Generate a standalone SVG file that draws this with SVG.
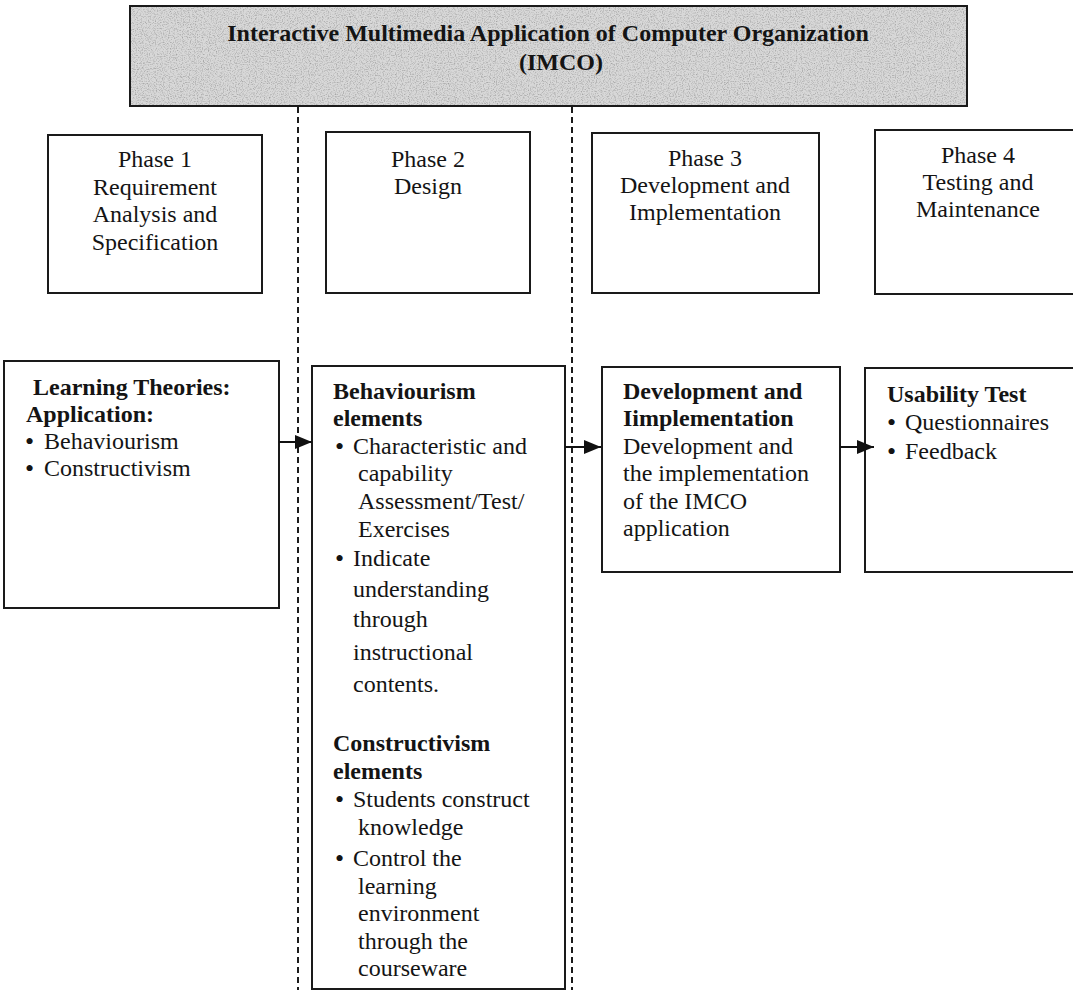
<svg xmlns="http://www.w3.org/2000/svg" width="1073" height="1003" viewBox="0 0 1073 1003">
<style>
  text { font-family: "Liberation Serif", "Times New Roman", serif; font-size: 24px; fill: #141414; }
  .b { font-weight: bold; }
  .c { text-anchor: middle; }
  .bul { font-size: 26px; }
  .box { fill: #ffffff; stroke: #1a1a1a; stroke-width: 2; }
  .dash { stroke: #1a1a1a; stroke-width: 2; stroke-dasharray: 6 4; fill: none; }
  .conn { stroke: #111; stroke-width: 2; fill: none; marker-end: url(#arrow); }
</style>
<defs>
  <marker id="arrow" markerUnits="userSpaceOnUse" markerWidth="18" markerHeight="14" refX="17" refY="7" orient="auto">
    <path d="M0,0 L17,7 L0,14 Z" fill="#111"/>
  </marker>
  <filter id="noise" x="0" y="0" width="100%" height="100%">
    <feTurbulence type="fractalNoise" baseFrequency="0.85" numOctaves="2" seed="7" result="t"/>
    <feColorMatrix in="t" type="matrix" values="0 0 0 0 0.35  0 0 0 0 0.35  0 0 0 0 0.35  0 0 0 2.2 -1.0" result="n"/>
    <feComposite in="n" in2="SourceGraphic" operator="in"/>
  </filter>
</defs>
<rect width="1073" height="1003" fill="#ffffff"/>

<g id="title">
  <rect x="130" y="6" width="837" height="100" fill="#d8d8d8"/>
  <rect x="130" y="6" width="837" height="100" fill="#000" filter="url(#noise)"/>
  <rect x="130" y="6" width="837" height="100" fill="none" stroke="#1a1a1a" stroke-width="2"/>
  <text class="b c" x="548" y="41">Interactive Multimedia Application of Computer Organization</text>
  <text class="b c" x="561" y="70">(IMCO)</text>
</g>

<g id="dividers">
  <line class="dash" x1="298" y1="107" x2="298" y2="990"/>
  <line class="dash" x1="572" y1="107" x2="572" y2="990"/>
</g>

<g id="phase1">
  <rect class="box" x="48" y="135" width="214" height="158"/>
  <text class="c" x="155" y="167">Phase 1</text>
  <text class="c" x="155" y="195">Requirement</text>
  <text class="c" x="155" y="222">Analysis and</text>
  <text class="c" x="155" y="250">Specification</text>
</g>

<g id="phase2">
  <rect class="box" x="326" y="132" width="204" height="161"/>
  <text class="c" x="428" y="167">Phase 2</text>
  <text class="c" x="428" y="194">Design</text>
</g>

<g id="phase3">
  <rect class="box" x="592" y="133" width="227" height="160"/>
  <text class="c" x="705" y="166">Phase 3</text>
  <text class="c" x="705" y="193">Development and</text>
  <text class="c" x="705" y="220">Implementation</text>
</g>

<g id="phase4">
  <rect class="box" x="875" y="130" width="210" height="164"/>
  <text class="c" x="978" y="163">Phase 4</text>
  <text class="c" x="978" y="190">Testing and</text>
  <text class="c" x="978" y="217">Maintenance</text>
</g>

<g id="learning-theories">
  <rect class="box" x="4" y="361" width="275" height="247"/>
  <text class="b" x="33" y="395">Learning Theories:</text>
  <text class="b" x="26" y="422">Application:</text>
  <text class="bul" x="25" y="450">•</text>
  <text x="44" y="449">Behaviourism</text>
  <text class="bul" x="25" y="477">•</text>
  <text x="44" y="476">Constructivism</text>
</g>

<g id="design-elements">
  <rect class="box" x="312" y="366" width="253" height="623"/>
  <text class="b" x="333" y="399">Behaviourism</text>
  <text class="b" x="333" y="426">elements</text>
  <text class="bul" x="335" y="455">•</text>
  <text x="353" y="454">Characteristic and</text>
  <text x="358" y="481">capability</text>
  <text x="358" y="509">Assessment/Test/</text>
  <text x="358" y="537">Exercises</text>
  <text class="bul" x="335" y="567">•</text>
  <text x="353" y="566">Indicate</text>
  <text x="353" y="597">understanding</text>
  <text x="353" y="627">through</text>
  <text x="353" y="660">instructional</text>
  <text x="353" y="692">contents.</text>
  <text class="b" x="333" y="751">Constructivism</text>
  <text class="b" x="333" y="779">elements</text>
  <text class="bul" x="335" y="808">•</text>
  <text x="353" y="807">Students construct</text>
  <text x="358" y="835">knowledge</text>
  <text class="bul" x="335" y="867">•</text>
  <text x="353" y="866">Control the</text>
  <text x="358" y="894">learning</text>
  <text x="358" y="921">environment</text>
  <text x="358" y="949">through the</text>
  <text x="358" y="976">courseware</text>
</g>

<g id="development">
  <rect class="box" x="602" y="367" width="238" height="205"/>
  <text class="b" x="623" y="399">Development and</text>
  <text class="b" x="623" y="426">Iimplementation</text>
  <text x="623" y="454">Development and</text>
  <text x="623" y="481">the implementation</text>
  <text x="623" y="509">of the  IMCO</text>
  <text x="623" y="536">application</text>
</g>

<g id="usability">
  <rect class="box" x="865" y="368" width="220" height="204"/>
  <text class="b" x="887" y="402">Usability Test</text>
  <text class="bul" x="887" y="431">•</text>
  <text x="905" y="430">Questionnaires</text>
  <text class="bul" x="887" y="460">•</text>
  <text x="905" y="459">Feedback</text>
</g>

<g id="connectors">
  <line class="conn" x1="279" y1="442" x2="312" y2="442"/>
  <line class="conn" x1="565" y1="447" x2="601" y2="447"/>
  <line class="conn" x1="840" y1="447" x2="874" y2="447"/>
</g>
</svg>
